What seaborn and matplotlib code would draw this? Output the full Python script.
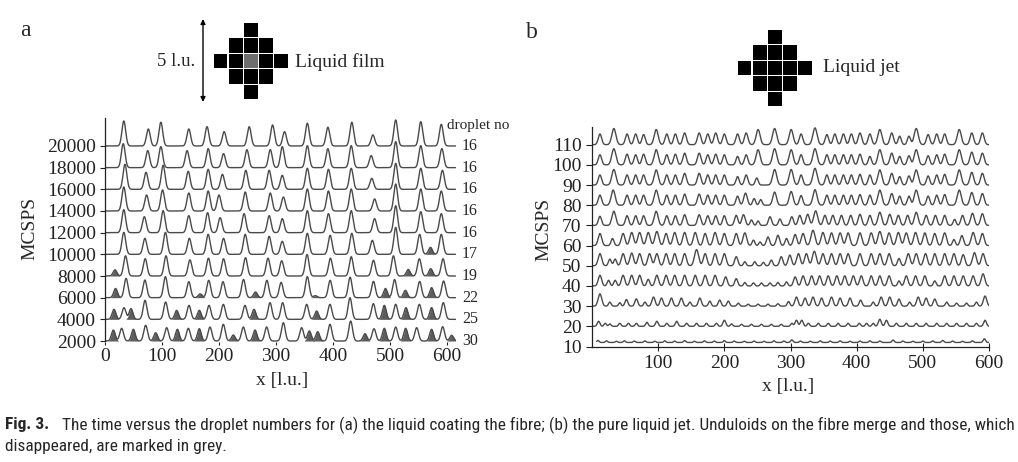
import numpy as np
import pandas as pd
import matplotlib
matplotlib.use("Agg")
import matplotlib.pyplot as plt
import seaborn as sns
from matplotlib.patches import Rectangle
from matplotlib import font_manager

# ---------------- Panel a : liquid film on the fibre ----------------
A_BASELINES = [20000, 18000, 16000, 14000, 12000, 10000, 8000, 6000, 4000, 2000]
A_DROPLET_NO = [16, 16, 16, 16, 16, 17, 19, 22, 25, 30]
A_YTICKS = [2000, 4000, 6000, 8000, 10000, 12000, 14000, 16000, 18000, 20000]
A_XTICKS = [0, 100, 200, 300, 400, 500, 600]

A_POS_20000 = [33, 76, 98, 147, 179, 209, 253, 294, 315, 355, 391, 433, 470, 510, 554, 590]
A_H_20000 = [2310, 1570, 2190, 1570, 1780, 1320, 1780, 1940, 1320, 2100, 1730, 2190, 1020, 2400, 2240, 2000]
A_GREY_20000 = []

A_POS_18000 = [32, 75, 98, 144, 181, 208, 249, 290, 311, 355, 391, 432, 467, 510, 554, 591]
A_H_18000 = [2215, 1570, 1940, 1570, 1755, 1290, 1660, 1660, 1940, 2030, 1755, 2030, 1110, 2400, 2030, 1755]
A_GREY_18000 = []

A_POS_16000 = [35, 72, 102, 146, 181, 206, 247, 288, 311, 355, 392, 432, 468, 510, 554, 592]
A_H_16000 = [2310, 1570, 2215, 1660, 1845, 1385, 1755, 1755, 1290, 1940, 1845, 1940, 1015, 2400, 1940, 1755]
A_GREY_16000 = []

A_POS_14000 = [33, 73, 101, 147, 181, 200, 246, 290, 313, 355, 392, 432, 473, 510, 554, 590]
A_H_14000 = [2215, 1475, 1940, 1660, 1845, 1475, 1755, 1660, 1290, 2030, 1845, 2030, 1110, 2490, 2030, 1845]
A_GREY_14000 = []

A_POS_12000 = [33, 69, 102, 147, 180, 202, 244, 288, 311, 355, 392, 432, 473, 510, 554, 590]
A_H_12000 = [2120, 1475, 2030, 1570, 1845, 1385, 1755, 1570, 1290, 2030, 1755, 2030, 1290, 2490, 1940, 1755]
A_GREY_12000 = []

A_POS_10000 = [33, 70, 106, 148, 181, 208, 246, 288, 311, 355, 395, 433, 469, 510, 552, 571, 590]
A_H_10000 = [2030, 1475, 2030, 1475, 1845, 1475, 1845, 1660, 1200, 1940, 1755, 1940, 1290, 2490, 1845, 645, 1845]
A_GREY_10000 = [571]

A_POS_8000 = [17.5, 36, 70.5, 107, 149, 181.5, 208, 246.5, 286, 310, 354.5, 395.5, 432, 471, 506, 532, 551.5, 571.5, 593]
A_H_8000 = [570, 1865, 1600, 1865, 1495, 1645, 1590, 1690, 1645, 1410, 1985, 1645, 1780, 1450, 1865, 600, 1590, 675, 1590]
A_GREY_8000 = [17.5, 532, 571.5]

A_POS_6000 = [18.5, 37, 70, 106, 147, 167, 182, 207, 243, 264, 284, 309, 355, 369, 395, 430, 471, 492, 508, 527, 552, 573, 594]
A_H_6000 = [850, 1780, 1630, 1940, 1475, 350, 1600, 1475, 1680, 525, 1600, 1410, 1940, 185, 1600, 1890, 1505, 850, 1680, 675, 1495, 925, 1540]
A_GREY_6000 = [18.5, 167, 264, 369, 492, 527, 573]

A_POS_4000 = [15.8, 33.3, 45.6, 70.2, 106.4, 125.7, 147.4, 165.5, 182.5, 207.6, 245.6, 261.4, 289.5, 311.7, 353.8,
              371.3, 394.7, 429.8, 470.8, 490, 510, 528, 551.5, 573, 593.5]
A_H_4000 = [925, 1080, 990, 1755, 1600, 830, 1290, 830, 1290, 1385, 1290, 925, 1540, 1540, 1385,
            765, 1385, 2000, 1450, 1290, 1385, 1080, 1385, 1080, 1540]
A_GREY_4000 = [15.8, 45.6, 125.7, 165.5, 261.4, 371.3, 490, 528, 573]

A_POS_2000 = [14.6, 29.2, 49.7, 71.3, 88.9, 108.2, 127, 146.2, 165.5, 184.2, 207.6, 225.1, 242.7, 263.2, 283.6,
              312.9, 345, 358.5, 373.1, 394.7, 431, 456.1, 472, 490, 510, 527.5, 546.8, 573, 592.4, 608.2]
A_H_2000 = [1015, 1170, 1080, 1450, 765, 1230, 1080, 1170, 1135, 1290, 1540, 555, 1290, 1015, 1290,
            1690, 1230, 925, 860, 1540, 1845, 675, 1135, 1170, 1290, 1170, 1230, 1080, 1320, 525]
A_GREY_2000 = [14.6, 49.7, 88.9, 127, 165.5, 225.1, 263.2, 358.5, 373.1, 456.1, 490, 527.5, 573, 608.2]

# ---------------- Panel b : pure liquid jet ----------------
B_BASELINES = [110, 100, 90, 80, 70, 60, 50, 40, 30, 20, 12]
B_YTICKS = [10, 20, 30, 40, 50, 60, 70, 80, 90, 100, 110]
B_XTICKS = [100, 200, 300, 400, 500, 600]
B_X_START = [0, 0, 0, 0, 0, 0, 0, 0, 0, 0, 7]

B_POS_110 = [12, 33, 53, 66, 78, 97, 113, 126, 140, 162, 175, 187, 200, 220, 233, 251, 276, 301, 316, 337, 355, 367,
             380, 392, 405, 420, 435, 453, 465, 479, 490, 508, 521, 533, 555, 574, 590]
B_H_110 = [5.3, 8.0, 5.3, 5.3, 5.0, 7.5, 5.3, 5.3, 5.8, 5.8, 5.3, 5.8, 5.3, 5.3, 5.8, 7.5, 8.0, 7.5, 5.3, 8.3, 5.0, 5.3,
           5.3, 5.3, 5.8, 5.3, 7.5, 5.8, 4.2, 4.2, 8.0, 5.0, 5.3, 5.3, 7.5, 5.8, 5.8]

B_POS_100 = [12, 33, 53, 66, 78, 97, 113, 126, 140, 162, 175, 187, 200, 220, 233, 251, 276, 301, 316, 337, 355, 367,
             380, 392, 405, 420, 435, 453, 465, 479, 490, 508, 521, 533, 555, 574, 590]
B_H_100 = [5.0, 8.0, 5.3, 5.0, 5.3, 7.5, 5.0, 5.3, 5.8, 5.8, 5.0, 5.3, 5.0, 4.2, 5.0, 7.5, 8.0, 7.5, 5.0, 8.0, 5.0, 5.0,
           5.0, 5.0, 5.3, 4.2, 7.5, 5.8, 4.2, 4.5, 7.5, 4.5, 5.0, 5.3, 7.5, 6.3, 5.8]

B_POS_90 = [12, 33, 53, 66, 78, 97, 113, 126, 140, 162, 175, 187, 200, 220, 233, 249, 276, 301, 316, 337, 355, 367,
            380, 392, 405, 420, 435, 453, 465, 479, 490, 508, 521, 533, 555, 574, 590]
B_H_90 = [5.0, 7.7, 5.0, 5.0, 5.0, 7.5, 5.0, 5.0, 5.8, 5.8, 5.0, 5.0, 5.0, 4.2, 5.0, 3.5, 7.7, 7.7, 5.0, 8.3, 5.0, 5.0,
          5.0, 5.0, 5.3, 5.0, 7.5, 5.8, 4.2, 4.5, 7.5, 4.5, 5.0, 5.3, 7.5, 6.3, 5.8]

B_POS_80 = [12, 32, 53, 66, 78, 97, 113, 126, 140, 162, 175, 187, 200, 220, 232, 245, 255, 276, 301, 316, 337, 355,
            367, 380, 392, 405, 420, 435, 453, 465, 479, 490, 508, 521, 533, 555, 574, 590]
B_H_80 = [5.0, 7.5, 5.0, 5.0, 5.0, 7.5, 5.0, 5.0, 5.5, 5.5, 5.0, 5.0, 5.0, 4.5, 6.0, 3.3, 2.8, 6.5, 6.8, 4.8, 7.7, 5.0,
          5.0, 5.0, 5.0, 5.3, 5.0, 7.5, 5.8, 4.5, 4.5, 7.5, 4.5, 5.0, 5.3, 7.5, 6.3, 5.8]

B_POS_70 = [12, 33, 53, 66, 78, 97, 113, 126, 140, 162, 175, 187, 200, 218, 229, 241, 251, 269, 284, 302, 314, 326,
            338, 352, 364, 377, 391, 405, 420, 435, 450, 463, 477, 490, 505, 519, 533, 548, 560, 575, 590]
B_H_70 = [4.5, 7.0, 4.8, 4.8, 4.8, 7.0, 4.8, 4.8, 5.3, 5.3, 4.8, 4.8, 4.8, 5.0, 5.3, 2.7, 2.2, 4.3, 3.2, 4.3, 5.0, 5.5,
          7.2, 5.0, 5.0, 5.0, 5.0, 5.5, 5.0, 6.5, 5.5, 5.0, 5.0, 6.5, 5.0, 5.0, 5.0, 3.0, 5.0, 6.0, 5.8]

B_POS_60 = [12, 31, 47, 60, 72, 85, 98, 112, 125, 140, 156, 171, 186, 200, 218, 231, 244, 254, 266, 281, 294, 307,
            319, 334, 349, 362, 375, 387, 405, 422, 435, 449, 463, 475, 489, 503, 518, 533, 547, 559, 576, 590]
B_H_60 = [6.0, 3.5, 6.0, 6.5, 6.5, 6.5, 7.0, 6.0, 6.5, 6.5, 6.5, 6.0, 6.5, 6.0, 6.0, 6.3, 2.7, 1.8, 4.3, 5.1, 3.5, 5.5,
          6.0, 7.6, 6.5, 6.3, 6.3, 6.3, 6.3, 6.3, 7.0, 6.3, 6.5, 6.3, 6.5, 6.3, 6.0, 6.3, 3.0, 5.0, 6.5, 6.0]

B_POS_50 = [12, 27, 35, 47, 60, 72, 87, 98, 112, 125, 140, 158, 171, 186, 200, 218, 231, 246, 259, 271, 286, 299,
            312, 324, 336, 349, 362, 375, 387, 405, 422, 435, 449, 464, 478, 490, 504, 518, 533, 547, 561, 578, 591]
B_H_50 = [6.0, 3.3, 3.3, 6.0, 6.3, 6.0, 6.0, 6.0, 6.0, 6.0, 6.0, 8.0, 6.0, 6.0, 6.0, 4.5, 2.0, 2.0, 1.7, 2.8, 4.5, 5.3,
          6.0, 6.0, 7.2, 6.0, 6.0, 6.0, 6.0, 6.0, 6.0, 6.0, 6.0, 3.6, 6.0, 6.0, 6.0, 6.0, 6.0, 6.0, 5.5, 6.5, 6.0]

B_POS_40 = [12, 25, 35, 47, 60, 72, 85, 98, 112, 125, 140, 156, 171, 186, 202, 218, 231, 244, 256, 269, 281, 294,
            307, 319, 332, 344, 357, 370, 382, 395, 407, 422, 435, 449, 464, 475, 489, 503, 518, 533, 547, 561, 576, 591]
B_H_40 = [5.3, 2.8, 2.8, 5.3, 5.3, 5.3, 3.3, 5.3, 5.3, 5.3, 5.3, 5.3, 5.3, 5.3, 4.5, 3.6, 1.7, 1.5, 1.5, 1.5, 1.7, 2.0,
          4.5, 5.0, 5.0, 5.0, 5.0, 5.0, 5.0, 5.0, 5.0, 5.0, 5.0, 5.0, 2.5, 5.0, 5.0, 5.0, 2.5, 5.0, 5.0, 5.0, 5.0, 6.0]

B_POS_30 = [12, 27, 42, 52, 67, 80, 93, 105, 120, 135, 148, 163, 178, 193, 206, 221, 236, 251, 266, 281, 297, 309,
            322, 334, 347, 362, 375, 390, 406, 425, 437, 450, 464, 480, 493, 505, 518, 536, 551, 566, 581, 594]
B_H_30 = [6.1, 2.0, 1.7, 3.3, 3.6, 2.0, 4.5, 4.0, 4.0, 4.0, 2.0, 4.0, 2.5, 3.0, 2.5, 1.5, 1.0, 1.0, 1.0, 1.2, 2.3, 4.5,
          4.0, 4.5, 4.0, 4.5, 4.0, 4.0, 3.0, 2.0, 4.5, 4.5, 3.5, 2.0, 4.5, 4.0, 3.5, 2.0, 1.5, 1.5, 2.0, 5.0]

B_POS_20 = [10, 20, 27, 42, 55, 67, 83, 98, 113, 128, 143, 158, 173, 188, 200, 211, 226, 241, 256, 271, 286, 302,
            309, 317, 327, 342, 357, 372, 387, 404, 415, 425, 435, 445, 460, 475, 490, 505, 521, 536, 551, 566, 581, 594]
B_H_20 = [2.5, 1.5, 1.2, 1.5, 1.5, 1.5, 2.0, 2.5, 1.5, 2.5, 1.5, 1.5, 1.5, 1.5, 3.0, 1.2, 1.0, 1.0, 1.0, 1.0, 1.0, 1.5,
          3.0, 3.0, 1.5, 1.5, 1.5, 1.5, 1.5, 1.5, 1.5, 1.5, 3.5, 3.0, 1.5, 1.5, 1.5, 1.5, 1.5, 1.5, 1.5, 1.5, 1.5, 3.0]

B_POS_12 = [9, 22, 37, 49, 64, 80, 95, 110, 125, 140, 155, 170, 185, 200, 215, 230, 245, 260, 275, 290, 302, 315,
            330, 345, 360, 375, 390, 405, 420, 435, 455, 470, 485, 500, 515, 530, 545, 560, 575, 593]
B_H_12 = [1.0, 0.8, 0.6, 0.8, 0.7, 0.8, 0.6, 0.8, 0.7, 0.9, 0.6, 0.8, 0.7, 0.9, 0.7, 0.6, 0.7, 0.6, 0.8, 0.7, 1.3, 0.7,
          0.6, 0.8, 0.7, 0.8, 0.6, 0.7, 0.8, 0.7, 1.2, 0.7, 0.6, 0.7, 0.8, 1.0, 0.7, 0.6, 0.8, 1.8]

CAP_BOLD = "Fig. 3."
CAP_LINE1 = ("The time versus the droplet numbers for (a) the liquid coating the fibre; (b) the pure liquid jet. "
             "Unduloids on the fibre merge and those, which")
CAP_LINE2 = "disappeared, are marked in grey."

A_POS = [A_POS_20000, A_POS_18000, A_POS_16000, A_POS_14000, A_POS_12000, A_POS_10000, A_POS_8000, A_POS_6000,
         A_POS_4000, A_POS_2000]
A_HGT = [A_H_20000, A_H_18000, A_H_16000, A_H_14000, A_H_12000, A_H_10000, A_H_8000, A_H_6000, A_H_4000, A_H_2000]
A_GREY = [A_GREY_20000, A_GREY_18000, A_GREY_16000, A_GREY_14000, A_GREY_12000, A_GREY_10000, A_GREY_8000,
          A_GREY_6000, A_GREY_4000, A_GREY_2000]
B_POS = [B_POS_110, B_POS_100, B_POS_90, B_POS_80, B_POS_70, B_POS_60, B_POS_50, B_POS_40, B_POS_30, B_POS_20, B_POS_12]
B_HGT = [B_H_110, B_H_100, B_H_90, B_H_80, B_H_70, B_H_60, B_H_50, B_H_40, B_H_30, B_H_20, B_H_12]

# ---------------- style ----------------
sns.set_style("ticks")
plt.rcParams["font.family"] = ["Liberation Serif", "DejaVu Serif"]
plt.rcParams["axes.edgecolor"] = "#222222"
plt.rcParams["xtick.color"] = "#222222"
plt.rcParams["ytick.color"] = "#222222"

LINE_C = "#4a4a4a"
GREY_C = "#5e5e5e"
SIG_A = 3.3


def bump(x, c, h, s):
    return h * np.exp(-0.5 * ((x - c) / s) ** 2)


def sig_b(h):
    return 1.5 + 0.2 * h


W, H = 1018, 462
fig = plt.figure(figsize=(W / 100, H / 100), dpi=100)

# overlay axes in pixel coordinates (texts, icons)
ov = fig.add_axes([0, 0, 1, 1])
ov.set_xlim(0, W)
ov.set_ylim(H, 0)
ov.set_axis_off()


def px_axes(left, top, right, bottom):
    return fig.add_axes([left / W, 1 - bottom / H, (right - left) / W, (bottom - top) / H])


# ---------------- panel a ----------------
A_XMAX = 615
ax_a = px_axes(105, 117.8, 105 + A_XMAX * 0.57, 342.1)
xa = np.linspace(0, A_XMAX, 3000)
frames = []
for i, (b, pos, hgt, grey) in enumerate(zip(A_BASELINES, A_POS, A_HGT, A_GREY)):
    y = np.full_like(xa, float(b))
    for c, h in zip(pos, hgt):
        y += bump(xa, c, h, SIG_A)
    for c, h in zip(pos, hgt):
        if c in grey:
            m = np.abs(xa - c) < 2.6 * SIG_A
            ax_a.fill_between(xa[m], b, np.minimum(y[m], b + bump(xa[m], c, h, SIG_A) + 30),
                              color=GREY_C, lw=0, zorder=1)
    frames.append(pd.DataFrame({"x": xa, "y": y, "row": i}))
df_a = pd.concat(frames, ignore_index=True)
sns.lineplot(data=df_a, x="x", y="y", units="row", estimator=None, color=LINE_C, linewidth=1.0,
             ax=ax_a, legend=False, sort=False, zorder=2)
ax_a.set_xlim(0, A_XMAX)
ax_a.set_ylim(1900, 22600)
ax_a.set_xticks(A_XTICKS)
ax_a.set_yticks(A_YTICKS)
ax_a.set_xlabel("")
ax_a.set_ylabel("")
for s in ["top", "right", "bottom"]:
    ax_a.spines[s].set_visible(False)
ax_a.spines["left"].set_bounds(2000, 22600)
ax_a.spines["left"].set_linewidth(0.9)
ax_a.tick_params(axis="y", direction="out", length=3.5, width=0.8, labelsize=14, pad=3)
ax_a.tick_params(axis="x", direction="out", length=2.5, width=0.8, labelsize=14, pad=2)
for b, n in zip(A_BASELINES, A_DROPLET_NO):
    ax_a.text(626, b, str(n), ha="left", va="center", fontsize=11.5, clip_on=False)
ax_a.text(600, 21900, "droplet no", ha="left", va="center", fontsize=11, clip_on=False)

# ---------------- panel b ----------------
ax_b = px_axes(592, 127.3, 989, 346.5)
xb = np.linspace(0, 600, 3000)
frames = []
for i, (b, pos, hgt, x0) in enumerate(zip(B_BASELINES, B_POS, B_HGT, B_X_START)):
    xs = xb[xb >= x0]
    y = np.full_like(xs, float(b))
    for c, h in zip(pos, hgt):
        y += bump(xs, c, h, sig_b(h))
    frames.append(pd.DataFrame({"x": xs, "y": y, "row": i}))
df_b = pd.concat(frames, ignore_index=True)
sns.lineplot(data=df_b, x="x", y="y", units="row", estimator=None, color=LINE_C, linewidth=1.0,
             ax=ax_b, legend=False, sort=False)
ax_b.set_xlim(0, 600)
ax_b.set_ylim(10, 118.6)
ax_b.set_xticks(B_XTICKS)
ax_b.set_yticks(B_YTICKS)
ax_b.set_xlabel("")
ax_b.set_ylabel("")
for s in ["top", "right"]:
    ax_b.spines[s].set_visible(False)
for s in ["left", "bottom"]:
    ax_b.spines[s].set_linewidth(0.9)
ax_b.tick_params(axis="y", direction="out", length=4.5, width=0.8, labelsize=14, pad=3)
ax_b.tick_params(axis="x", direction="inout", length=6, width=0.8, labelsize=14, pad=3)

# ---------------- labels ----------------
SERIF = ["Liberation Serif", "DejaVu Serif"]
ov.text(30, 228, "MCSPS", rotation=90, ha="center", va="center", fontsize=14, family=SERIF)
ov.text(544, 229, "MCSPS", rotation=90, ha="center", va="center", fontsize=14, family=SERIF)
ov.text(282, 381, "x [l.u.]", ha="center", va="center", fontsize=14, family=SERIF)
ov.text(788, 387, "x [l.u.]", ha="center", va="center", fontsize=14, family=SERIF)
ov.text(25, 30, "a", ha="center", va="center", fontsize=17, family=SERIF)
ov.text(532, 32, "b", ha="center", va="center", fontsize=17, family=SERIF)
ov.text(176, 62, "5 l.u.", ha="center", va="center", fontsize=13.5, family=SERIF)
ov.text(295, 62, "Liquid film", ha="left", va="center", fontsize=14, family=SERIF)
ov.text(823, 67, "Liquid jet", ha="left", va="center", fontsize=14, family=SERIF)

# double arrow "5 l.u."
ov.annotate("", xy=(203, 19), xytext=(203, 102),
            arrowprops=dict(arrowstyle="<|-|>", lw=1.0, color="black", mutation_scale=7, shrinkA=0, shrinkB=0))


# lattice icons
def icon(x0, y0, cw, ch, centre_colour):
    for r in range(5):
        for c in range(5):
            if abs(r - 2) + abs(c - 2) <= 2:
                col = centre_colour if (r == 2 and c == 2) else "black"
                ov.add_patch(Rectangle((x0 + c * cw + 0.6, y0 + r * ch + 0.6), cw - 1.2, ch - 1.2,
                                       facecolor=col, edgecolor="none"))


icon(213, 22, 15.1, 15.6, "#6e6e6e")
icon(737, 29, 15.1, 15.6, "black")

# ---------------- caption ----------------
avail = {f.name for f in font_manager.fontManager.ttflist}
cap_fam = "DejaVu Sans"
for cand in ["Liberation Sans Narrow", "DejaVu Sans Condensed", "Roboto Condensed", "Open Sans Condensed"]:
    if cand in avail:
        cap_fam = cand
        break
t_bold = ov.text(5, 425, CAP_BOLD, ha="left", va="center", fontsize=11, family=cap_fam,
                 fontweight="bold", fontstretch="condensed")
t1 = ov.text(62, 425, CAP_LINE1, ha="left", va="center", fontsize=11, family=cap_fam, fontstretch="condensed")
t2 = ov.text(5, 446, CAP_LINE2, ha="left", va="center", fontsize=11, family=cap_fam, fontstretch="condensed")
fig.canvas.draw()
w1 = t1.get_window_extent().width
fs = 11 * 950.0 / w1
for t in (t_bold, t1, t2):
    t.set_fontsize(fs)
fig.canvas.draw()
wb = t_bold.get_window_extent().width
t_bold.set_fontsize(fs * min(1.0, 52.0 / wb))

fig.savefig("out.png", dpi=100)
